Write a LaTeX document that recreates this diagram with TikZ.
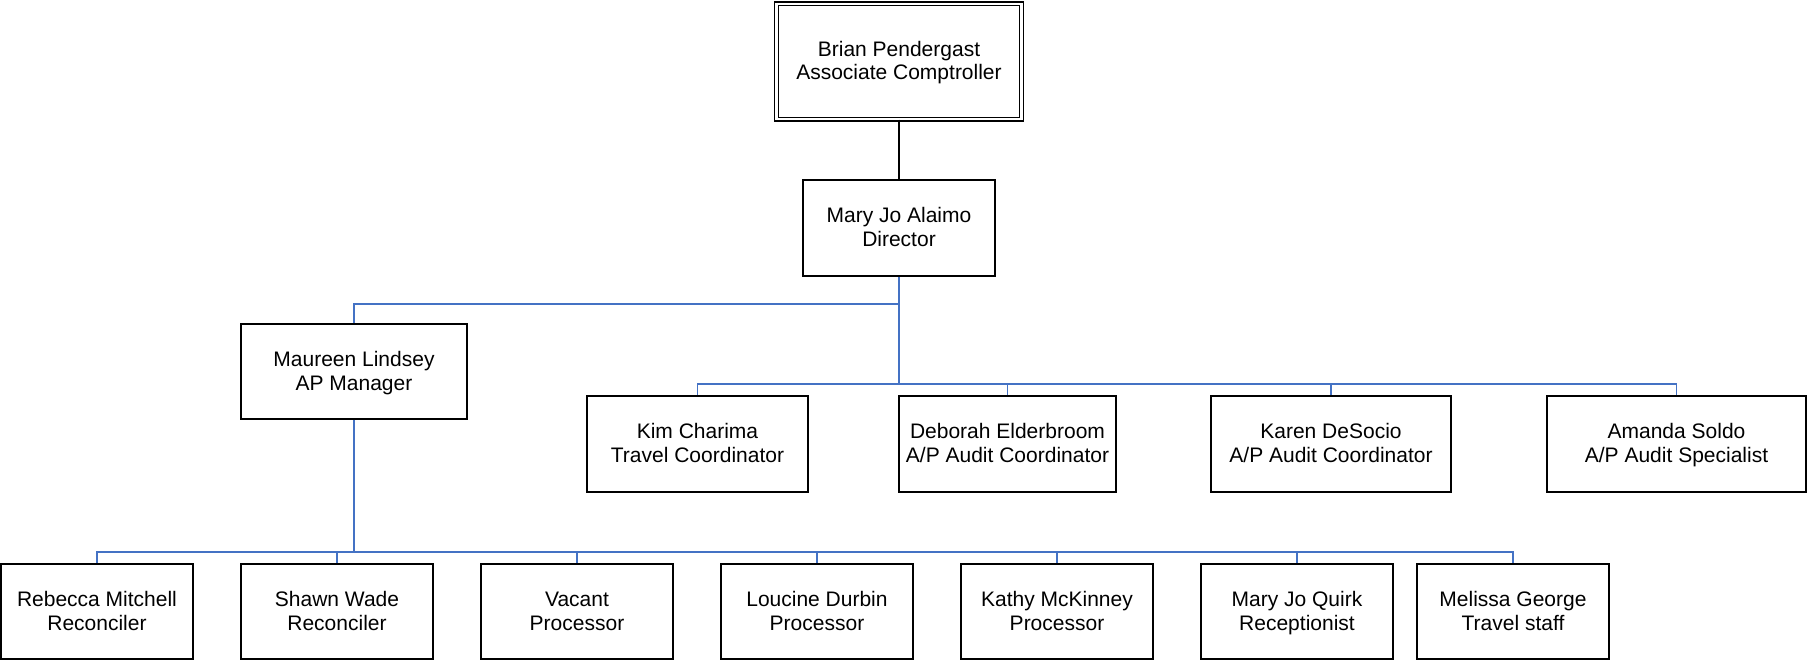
\documentclass[tikz,border=0pt]{standalone}
\usepackage{fontspec}
\setmainfont{Liberation Sans}
\definecolor{linkblue}{HTML}{4472C4}
\newcommand{\lnst}{\rule[-5pt]{0pt}{23pt}}
\newcommand{\twol}[2]{#1\lnst\\#2\lnst}
\begin{document}
\begin{tikzpicture}[x=1pt,y=-1pt,
  box/.style={draw=black, line width=1.6pt, fill=white, inner sep=0pt, align=center,
    font=\fontsize{21}{24}\selectfont},
  topbox/.style={box, double, line width=1.3pt, double distance=2.4pt},
  link/.style={draw=linkblue, line width=1.6pt},
  blink/.style={draw=black, line width=1.6pt}]
\useasboundingbox (0,0) rectangle (1808,661);
% top
\node[topbox, minimum width=245pt, minimum height=115pt] (brian) at (899,61.5) {\twol{Brian Pendergast}{Associate Comptroller}};
\node[box, minimum width=192pt, minimum height=96pt] (mary) at (899,228) {\twol{Mary Jo Alaimo}{Director}};
\node[box, minimum width=226pt, minimum height=95pt] (maureen) at (354,371.5) {\twol{Maureen Lindsey}{AP Manager}};
% second row
\node[box, minimum width=221pt, minimum height=96pt] (kim) at (697.5,444) {\twol{Kim Charima}{Travel Coordinator}};
\node[box, minimum width=217pt, minimum height=96pt] (deborah) at (1007.5,444) {\twol{Deborah Elderbroom}{A/P Audit Coordinator}};
\node[box, minimum width=240pt, minimum height=96pt] (karen) at (1331,444) {\twol{Karen DeSocio}{A/P Audit Coordinator}};
\node[box, minimum width=259pt, minimum height=96pt] (amanda) at (1676.5,444) {\twol{Amanda Soldo}{A/P Audit Specialist}};
% bottom row
\foreach \nm/\x/\ta/\tb in {rebecca/97/{Rebecca Mitchell}/{Reconciler},
  shawn/337/{Shawn Wade}/{Reconciler},
  vacant/577/{Vacant}/{Processor},
  loucine/817/{Loucine Durbin}/{Processor},
  kathy/1057/{Kathy McKinney}/{Processor},
  quirk/1297/{Mary Jo Quirk}/{Receptionist},
  melissa/1513/{Melissa George}/{Travel staff}}
  {\node[box, minimum width=192pt, minimum height=95pt] (\nm) at (\x,611.5) {\twol{\ta}{\tb}};}
% connectors
\coordinate (b1) at (899,304);
\coordinate (b2) at (899,384);
\coordinate (b3) at (354,552);
\draw[blink] (brian.south) -- (mary.north);
\draw[link] (mary.south) -- (b1) -| (maureen.north);
\draw[link] (b1) -- (b2);
\draw[link] (b2) -| (kim.north);
\draw[link] (b2) -| (amanda.north);
\draw[link] (deborah.north) -- (deborah.north |- b2);
\draw[link] (karen.north) -- (karen.north |- b2);
\draw[link] (maureen.south) -- (b3);
\draw[link] (b3) -| (rebecca.north);
\draw[link] (b3) -| (melissa.north);
\foreach \nm in {shawn,vacant,loucine,kathy,quirk}
  {\draw[link] (\nm.north) -- (\nm.north |- b3);}
\end{tikzpicture}
\end{document}
